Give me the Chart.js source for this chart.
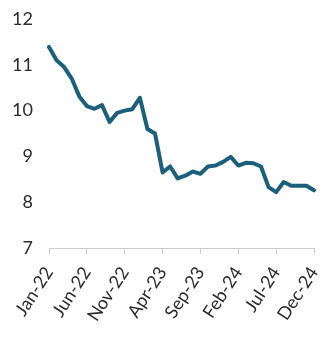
<!DOCTYPE html>
<html>
<head>
<meta charset="utf-8">
<script src="https://cdn.jsdelivr.net/npm/chart.js@4"></script>
<style>
  body { margin: 0; background: #fff; }
  #wrap { width: 321px; height: 344px; position: relative; }
</style>
</head>
<body>
<div id="wrap"><canvas id="lineChart"></canvas></div>
<script>
// monthly labels Jan-22 .. Dec-24
const months = ['Jan', 'Feb', 'Mar', 'Apr', 'May', 'Jun', 'Jul', 'Aug', 'Sep', 'Oct', 'Nov', 'Dec'];
const years = ['22', '23', '24'];
const categories = [];
years.forEach(y => months.forEach(m => categories.push(`${m}-${y}`)));

// values
const values = [
    11.39, 11.10, 10.95, 10.70, 10.31, 10.10, 10.04, 10.12, 9.75, 9.95, 10.00, 10.03,
    10.28, 9.60, 9.50, 8.65, 8.78, 8.52, 8.58, 8.67, 8.62, 8.78, 8.80, 8.88,
    8.99, 8.80, 8.86, 8.85, 8.78, 8.33, 8.22, 8.44, 8.36, 8.36, 8.36, 8.26
];

const yTicks = [7, 8, 9, 10, 11, 12];
const labelEvery = 5;
const fontFamily = "Lato, 'Open Sans', sans-serif";

const ctx = document.getElementById('lineChart');
new Chart(ctx.getContext('2d'), {
    type: 'line',
    data: {
        labels: categories,
        datasets: [{
            data: values,
            borderColor: '#1c5f7c',
            borderWidth: 4,
            pointRadius: 0,
            tension: 0,
            borderJoinStyle: 'round',
            borderCapStyle: 'round',
            fill: false
        }]
    },
    options: {
        responsive: true,
        maintainAspectRatio: false,
        animation: false,
        layout: { padding: { top: 19, right: 7, left: 0, bottom: 4 } },
        plugins: { legend: { display: false }, tooltip: { enabled: false } },
        scales: {
            x: {
                offset: false,
                border: { display: true, color: '#cccccc', width: 1 },
                grid: { drawOnChartArea: false, drawTicks: true, tickLength: 6, color: '#cccccc' },
                afterFit: axis => { axis.paddingLeft = 0; axis.paddingRight = 0; axis.height = 92; },
                ticks: {
                    autoSkip: false,
                    maxRotation: 57,
                    minRotation: 57,
                    padding: 9,
                    color: '#2b2b2b',
                    font: { family: fontFamily, size: 18 },
                    callback: (v, i) => (i % labelEvery === 0 ? categories[i] : null)
                }
            },
            y: {
                min: yTicks[0],
                max: yTicks[yTicks.length - 1],
                afterBuildTicks: axis => { axis.ticks = yTicks.map(v => ({ value: v })); },
                afterFit: axis => { axis.width = 49; axis.paddingTop = 0; axis.paddingBottom = 0; },
                border: { display: false },
                grid: { display: false, drawTicks: false },
                ticks: {
                    padding: 16,
                    color: '#2b2b2b',
                    font: { family: fontFamily, size: 18 }
                }
            }
        }
    }
});
</script>
</body>
</html>
